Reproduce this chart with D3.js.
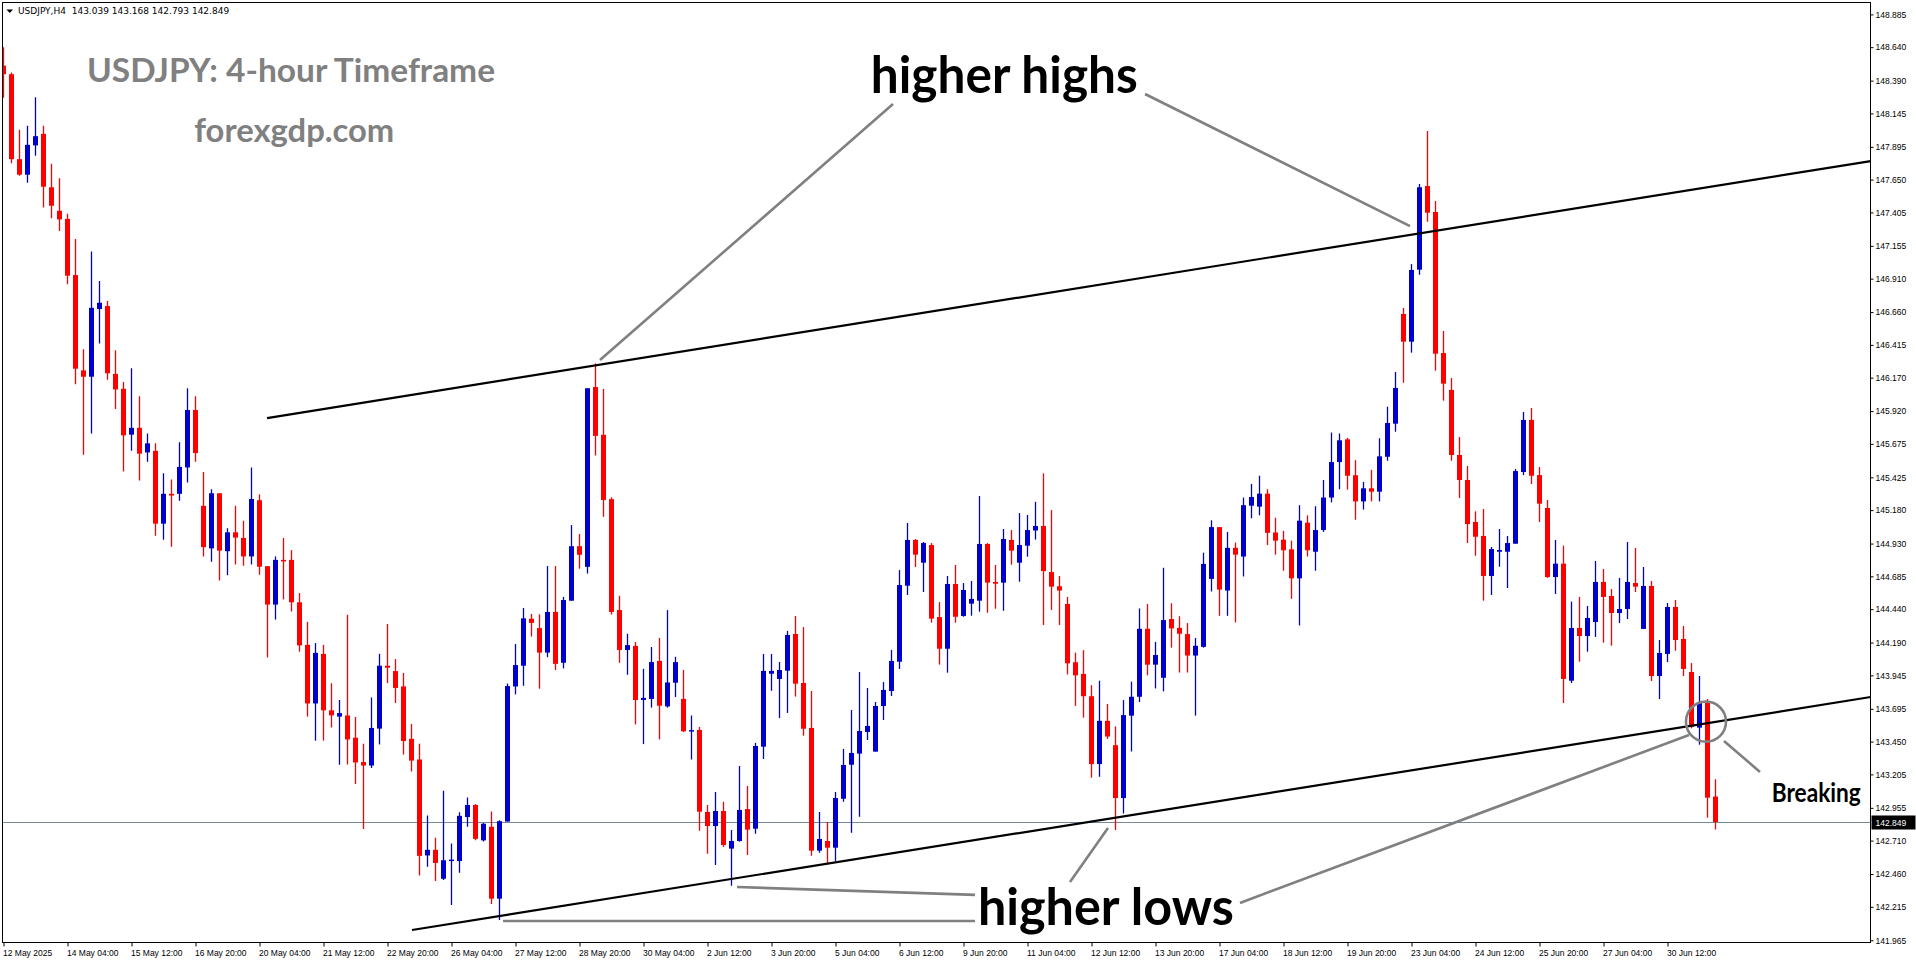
<!DOCTYPE html>
<html>
<head>
<meta charset="utf-8">
<script src="https://cdn.jsdelivr.net/npm/d3@7"></script>
<style>
html,body{margin:0;padding:0;background:#fff;overflow:hidden;}
svg{display:block;}
</style>
</head>
<body>
<svg id="chart" width="1916" height="964"></svg>
<script>
// ---------- DATA (USDJPY H4) ----------
const symbolInfo = "USDJPY,H4";
const lastOHLC = ["143.039", "143.168", "142.793", "142.849"];
const lastPrice = 142.849;

const opens = [148.502,148.438,147.803,147.687,147.906,147.992,147.593,147.417,147.357,146.937,146.224,146.177,146.683,146.705,146.198,146.087,145.744,145.795,145.611,145.623,145.079,145.302,145.302,145.499,145.928,145.212,144.894,145.306,144.873,145.014,144.972,144.834,145.254,144.761,144.474,144.808,144.808,144.491,144.173,143.735,144.105,143.684,143.637,143.645,143.479,143.297,143.271,143.547,144.017,143.977,143.862,143.471,143.316,142.599,142.641,142.425,142.557,142.557,142.886,142.976,142.712,142.813,142.276,142.852,143.862,144.017,144.368,144.298,144.115,144.419,144.039,144.503,144.910,144.756,146.100,145.743,145.262,144.433,144.135,144.165,143.761,143.769,144.053,143.713,143.890,143.769,143.525,143.537,142.924,142.819,142.931,142.650,142.707,142.946,142.799,143.412,143.957,143.918,143.980,144.254,143.888,143.552,142.635,142.707,142.657,143.023,143.277,143.360,143.522,143.375,143.716,143.828,144.047,144.615,144.957,144.787,144.919,144.381,144.144,144.628,144.389,144.481,144.503,144.927,144.643,144.638,144.957,144.787,144.914,145.028,145.061,144.717,144.611,144.478,144.043,143.956,143.789,143.282,143.605,143.423,143.028,143.644,143.785,144.293,144.025,143.927,144.366,144.300,144.253,144.093,144.158,144.666,145.053,144.579,144.898,144.833,145.213,145.206,145.303,145.013,144.959,144.887,144.670,145.086,144.869,145.031,145.274,145.539,145.709,145.441,145.245,145.343,145.318,145.579,145.826,146.646,146.439,146.977,147.602,147.408,146.354,146.078,145.592,145.405,145.091,144.987,144.688,144.869,144.869,144.929,145.465,145.854,145.442,145.196,144.680,144.780,143.905,144.299,144.239,144.344,144.643,144.538,144.411,144.441,144.635,144.292,144.613,143.940,144.105,144.456,144.217,143.970,143.554,143.746,143.039];
const highs = [148.640,148.451,148.022,148.052,148.266,148.052,147.768,147.661,147.395,147.206,146.383,147.112,146.893,146.743,146.374,146.138,146.241,146.031,145.752,145.679,145.456,145.409,145.688,146.091,146.031,145.465,145.336,145.306,145.044,145.212,145.100,145.499,145.298,144.761,144.834,144.972,144.881,144.560,144.345,144.186,144.173,143.886,143.761,144.398,143.634,143.434,143.780,144.106,144.329,144.067,143.963,143.581,143.434,142.898,142.732,143.083,142.689,142.922,143.032,142.984,142.841,142.928,142.863,143.884,144.179,144.449,144.404,144.401,144.762,144.762,144.531,145.068,145.001,146.091,146.277,146.086,145.276,144.540,144.256,144.194,143.994,144.157,144.224,144.433,144.084,143.985,143.645,143.559,142.976,143.073,143.001,142.789,143.268,143.118,143.440,144.105,144.105,144.045,144.277,144.389,144.306,143.828,142.924,142.849,143.073,143.395,143.686,143.970,143.851,143.746,143.895,144.135,144.732,145.084,144.964,144.942,144.934,144.493,144.688,144.770,144.635,144.650,145.286,144.934,144.770,145.039,145.031,145.158,145.144,145.242,145.455,145.180,144.688,144.531,144.115,144.133,143.872,143.905,143.731,143.564,143.760,143.898,144.445,144.478,144.195,144.749,144.484,144.387,144.336,144.224,144.862,145.104,145.053,145.017,144.937,145.274,145.376,145.437,145.336,145.123,145.025,144.952,145.217,145.141,145.209,145.405,145.760,145.753,145.720,145.553,145.390,145.481,145.717,145.953,146.212,146.691,147.019,147.617,148.013,147.490,146.519,146.167,145.726,145.510,145.171,145.188,144.904,145.039,144.987,145.487,145.913,145.943,145.502,145.256,144.957,144.914,144.496,144.531,144.463,144.800,144.740,144.590,144.673,144.942,144.897,144.755,144.650,144.209,144.486,144.508,144.314,144.037,143.940,143.768,143.168];
const lows = [148.262,147.773,147.679,147.627,147.829,147.442,147.361,147.267,146.868,146.121,145.593,145.752,146.426,146.155,145.936,145.469,145.623,145.401,145.542,144.989,144.958,144.907,145.250,145.387,145.542,144.834,144.795,144.654,144.693,144.774,144.765,144.774,144.697,144.079,144.362,144.512,144.422,144.122,143.637,143.457,143.457,143.555,143.277,143.278,143.133,142.796,143.252,143.429,143.887,143.738,143.353,143.227,142.450,142.515,142.408,142.416,142.228,142.470,142.813,142.712,142.703,142.236,142.116,142.852,143.803,143.867,144.235,143.845,144.081,143.985,143.997,144.503,144.742,144.706,145.588,145.130,144.399,144.039,143.949,143.578,143.431,143.704,143.466,143.704,143.783,143.522,143.316,142.784,142.612,142.528,142.662,142.373,142.702,142.602,142.762,143.320,143.830,143.626,143.664,143.786,143.494,142.597,142.620,142.533,142.555,143.001,142.769,142.889,143.462,143.375,143.611,143.791,143.993,144.546,144.755,144.568,144.339,144.025,143.965,144.339,144.383,144.391,144.421,144.413,144.443,144.428,144.772,144.645,144.832,144.960,144.321,144.434,144.321,143.952,143.717,143.629,143.180,143.188,143.470,142.789,142.913,143.376,143.746,143.945,143.847,143.825,144.152,143.966,143.966,143.644,144.152,144.572,144.390,144.390,144.340,144.684,145.119,145.141,144.919,144.847,144.727,144.517,144.318,144.833,144.727,145.017,145.238,145.336,145.333,145.108,145.184,145.245,145.245,145.549,145.766,146.132,146.357,146.939,147.336,146.222,145.998,145.549,145.271,144.934,144.839,144.503,144.546,144.757,144.598,144.929,145.442,145.375,145.091,144.673,144.553,143.738,143.888,144.047,144.122,144.232,144.189,144.167,144.336,144.366,144.568,144.292,143.903,143.768,144.045,144.129,143.940,143.549,143.427,142.881,142.793];
const closes = [148.438,147.803,147.687,147.910,147.975,147.597,147.455,147.353,146.932,146.237,146.177,146.692,146.730,146.203,146.082,145.739,145.795,145.602,145.679,145.079,145.302,145.289,145.503,145.928,145.606,144.903,145.306,144.877,145.014,144.975,144.834,145.263,144.757,144.474,144.808,144.800,144.491,144.169,143.735,144.113,143.684,143.646,143.663,143.466,143.294,143.271,143.552,144.017,144.002,143.851,143.454,143.308,142.596,142.641,142.543,142.563,142.568,142.895,142.976,142.723,142.836,142.276,142.855,143.865,144.022,144.371,144.337,144.115,144.419,144.031,144.508,144.910,144.846,146.091,145.735,145.256,144.419,144.135,144.171,143.761,143.777,144.044,143.718,143.892,144.044,143.527,143.536,142.926,142.819,142.931,142.677,142.707,142.939,142.792,143.417,143.978,143.978,143.985,144.247,143.883,143.546,142.635,142.722,142.657,143.028,143.275,143.365,143.529,143.567,143.716,143.836,144.052,144.620,144.957,144.847,144.934,144.369,144.144,144.628,144.383,144.583,144.516,144.927,144.638,144.630,144.964,144.877,144.919,145.031,145.061,144.724,144.608,144.579,144.035,143.945,143.789,143.282,143.605,143.488,143.028,143.648,143.785,144.293,144.025,144.097,144.358,144.296,144.256,144.093,144.166,144.778,145.053,144.586,144.898,144.847,145.217,145.278,145.303,145.010,144.952,144.880,144.670,145.101,144.880,145.031,145.274,145.539,145.702,145.437,145.245,145.343,145.318,145.582,145.831,146.093,146.439,146.975,147.593,147.403,146.349,146.125,145.592,145.405,145.076,144.981,144.688,144.889,144.882,144.934,145.472,145.854,145.437,145.228,144.680,144.780,143.918,144.299,144.239,144.374,144.643,144.531,144.411,144.441,144.643,144.608,144.613,143.940,144.112,144.456,144.209,143.993,143.561,143.738,143.031,142.849];

// time axis labels (one every 8 bars)
const timeLabels = ["12 May 2025","14 May 04:00","15 May 12:00","16 May 20:00","20 May 04:00","21 May 12:00","22 May 20:00","26 May 04:00","27 May 12:00","28 May 20:00","30 May 04:00","2 Jun 12:00","3 Jun 20:00","5 Jun 04:00","6 Jun 12:00","9 Jun 20:00","11 Jun 04:00","12 Jun 12:00","13 Jun 20:00","17 Jun 04:00","18 Jun 12:00","19 Jun 20:00","23 Jun 04:00","24 Jun 12:00","25 Jun 20:00","27 Jun 04:00","30 Jun 12:00"];
const timeLabelBars = timeLabels.map((d, k) => k * 8);
// price axis labels
const priceTicks = ["148.885","148.640","148.390","148.145","147.895","147.650","147.405","147.155","146.910","146.660","146.415","146.170","145.920","145.675","145.425","145.180","144.930","144.685","144.440","144.190","143.945","143.695","143.450","143.205","142.955","142.710","142.460","142.215","141.965"];

// trendlines  [bar index, price]
const upperTrend = [[32.94, 145.868], [233.4, 147.789]];
const lowerTrend = [[51.06, 142.042], [233.4, 143.783]];

// annotation pointers [bar index, price]
const highsPointers = [
  [[74.56, 146.302], [111.19, 148.215]],
  [[142.69, 148.290], [175.81, 147.303]]
];
const lowsPointers = [
  [[62.44, 142.109], [121.44, 142.109]],
  [[91.69, 142.363], [121.44, 142.304]],
  [[133.31, 142.401], [138.06, 142.804]],
  [[154.56, 142.244], [210.69, 143.499]]
];
const breakCircle = [212.81, 143.599];
const breakPointer = [[215.06, 143.455], [219.56, 143.223]];
const annotations = [
  {text: "higher highs", at: [125.1, 148.294]},
  {text: "higher lows", at: [137.8, 142.08]},
  {text: "Breaking", at: [226.6, 143.00]}
];

// ---------- DRAW ----------
const W = 1916, H = 964;
const plot = {left: 2.5, top: 2.5, right: 1870.5, bottom: 942.5};
const svg = d3.select("#chart");

const x = d3.scaleLinear().domain([0, 214]).range([3.5, 1715.5]);
const y = d3.scaleLinear().domain([142.849, 148.885]).range([822, 14.4]);

const candles = opens.map((o, i) => ({i, o, h: highs[i], l: lows[i], c: closes[i]}));

svg.append("rect").attr("width", W).attr("height", H).attr("fill", "#fff");

svg.append("clipPath").attr("id", "clip").append("rect")
  .attr("x", plot.left).attr("y", plot.top)
  .attr("width", plot.right - plot.left).attr("height", plot.bottom - plot.top);

const g = svg.append("g").attr("clip-path", "url(#clip)");

// bid line
g.append("line")
  .attr("x1", plot.left).attr("x2", plot.right)
  .attr("y1", Math.round(y(lastPrice)) + 0.5).attr("y2", Math.round(y(lastPrice)) + 0.5)
  .attr("stroke", "#778899").attr("stroke-width", 1);

// candles
const bull = "#0000cd", bear = "#ff0000";
const cg = g.append("g");
cg.selectAll("line.wick").data(candles).join("line")
  .attr("class", "wick")
  .attr("x1", d => x(d.i)).attr("x2", d => x(d.i))
  .attr("y1", d => y(d.h)).attr("y2", d => y(d.l))
  .attr("stroke", d => d.c >= d.o ? bull : bear)
  .attr("stroke-width", 1.3);
cg.selectAll("rect.body").data(candles).join("rect")
  .attr("class", "body")
  .attr("x", d => x(d.i) - 2.5)
  .attr("width", 5)
  .attr("y", d => y(Math.max(d.o, d.c)))
  .attr("height", d => Math.max(1.5, Math.abs(y(d.o) - y(d.c))))
  .attr("fill", d => d.c >= d.o ? bull : bear);

// trendlines
const line = d3.line().x(d => x(d[0])).y(d => y(d[1]));
[upperTrend, lowerTrend].forEach(t => {
  g.append("path").attr("d", line(t)).attr("fill", "none")
    .attr("stroke", "#000").attr("stroke-width", 2.2);
});

// pointers
[...highsPointers, ...lowsPointers, breakPointer].forEach(p => {
  g.append("path").attr("d", line(p)).attr("fill", "none")
    .attr("stroke", "#808080").attr("stroke-width", 2.6);
});
g.append("circle")
  .attr("cx", x(breakCircle[0])).attr("cy", y(breakCircle[1])).attr("r", 20)
  .attr("fill", "none").attr("stroke", "#808080").attr("stroke-width", 2.6);

// annotation texts
const annFont = "Lato, 'Open Sans', sans-serif";
const annStyle = [
  {size: 51, len: 267},
  {size: 52, len: 256},
  {size: 27, len: 89}
];
annotations.forEach((a, k) => {
  g.append("text").attr("x", x(a.at[0])).attr("y", y(a.at[1]))
    .attr("text-anchor", "middle").attr("font-family", annFont).attr("font-weight", 700)
    .attr("font-size", annStyle[k].size)
    .attr("textLength", annStyle[k].len).attr("lengthAdjust", "spacingAndGlyphs")
    .attr("fill", "#000").text(a.text);
});

// watermark titles
svg.append("text").attr("x", 291).attr("y", 81.5).attr("text-anchor", "middle")
  .attr("font-family", annFont).attr("font-weight", 700).attr("font-size", 32)
  .attr("textLength", 408).attr("lengthAdjust", "spacingAndGlyphs")
  .attr("fill", "#808080").text("USDJPY: 4-hour Timeframe");
svg.append("text").attr("x", 294.3).attr("y", 141.5).attr("text-anchor", "middle")
  .attr("font-family", annFont).attr("font-weight", 700).attr("font-size", 31.5)
  .attr("textLength", 200).attr("lengthAdjust", "spacingAndGlyphs")
  .attr("fill", "#808080").text("forexgdp.com");

// header
const hdr = svg.append("g").attr("font-family", "Tahoma, 'DejaVu Sans', 'Liberation Sans', sans-serif").attr("font-size", 9);
hdr.append("path").attr("d", "M6.5,9.5 L13,9.5 L9.75,13 Z").attr("fill", "#000");
hdr.append("text").attr("x", 18).attr("y", 13.5).attr("fill", "#000")
  .attr("xml:space", "preserve")
  .text(symbolInfo + "  " + lastOHLC.join(" "));

// frame
svg.append("rect")
  .attr("x", plot.left).attr("y", plot.top)
  .attr("width", plot.right - plot.left).attr("height", plot.bottom - plot.top)
  .attr("fill", "none").attr("stroke", "#000").attr("stroke-width", 1);

// y axis
const yAxis = d3.axisRight(y)
  .tickValues(priceTicks.map(Number))
  .tickFormat((d, k) => priceTicks[k])
  .tickSize(3).tickPadding(2);
const ya = svg.append("g").attr("transform", `translate(${plot.right},0)`).call(yAxis);
ya.select(".domain").remove();
ya.selectAll("text").attr("font-family", "'Liberation Sans', Arial, sans-serif").attr("font-size", 8.5).attr("fill", "#000");
ya.selectAll("line").attr("stroke", "#000");

// x axis
const xAxis = d3.axisBottom(x)
  .tickValues(timeLabelBars)
  .tickFormat((d, k) => timeLabels[k])
  .tickSize(4).tickPadding(3);
const xa = svg.append("g").attr("transform", `translate(0,${plot.bottom})`).call(xAxis);
xa.select(".domain").remove();
xa.selectAll("text").attr("text-anchor", "start").attr("dx", -1)
  .attr("font-family", "'Liberation Sans', Arial, sans-serif").attr("font-size", 8.5).attr("fill", "#000");
xa.selectAll("line").attr("stroke", "#000");

// current price label
const py = Math.round(y(lastPrice)) + 0.5;
svg.append("rect").attr("x", plot.right + 1).attr("y", py - 7).attr("width", 44).attr("height", 14).attr("fill", "#000");
svg.append("text").attr("x", plot.right + 5).attr("y", py + 3.5)
  .attr("font-family", "'Liberation Sans', Arial, sans-serif").attr("font-size", 8.5)
  .attr("fill", "#fff").text(lastPrice.toFixed(3));
</script>
</body>
</html>
